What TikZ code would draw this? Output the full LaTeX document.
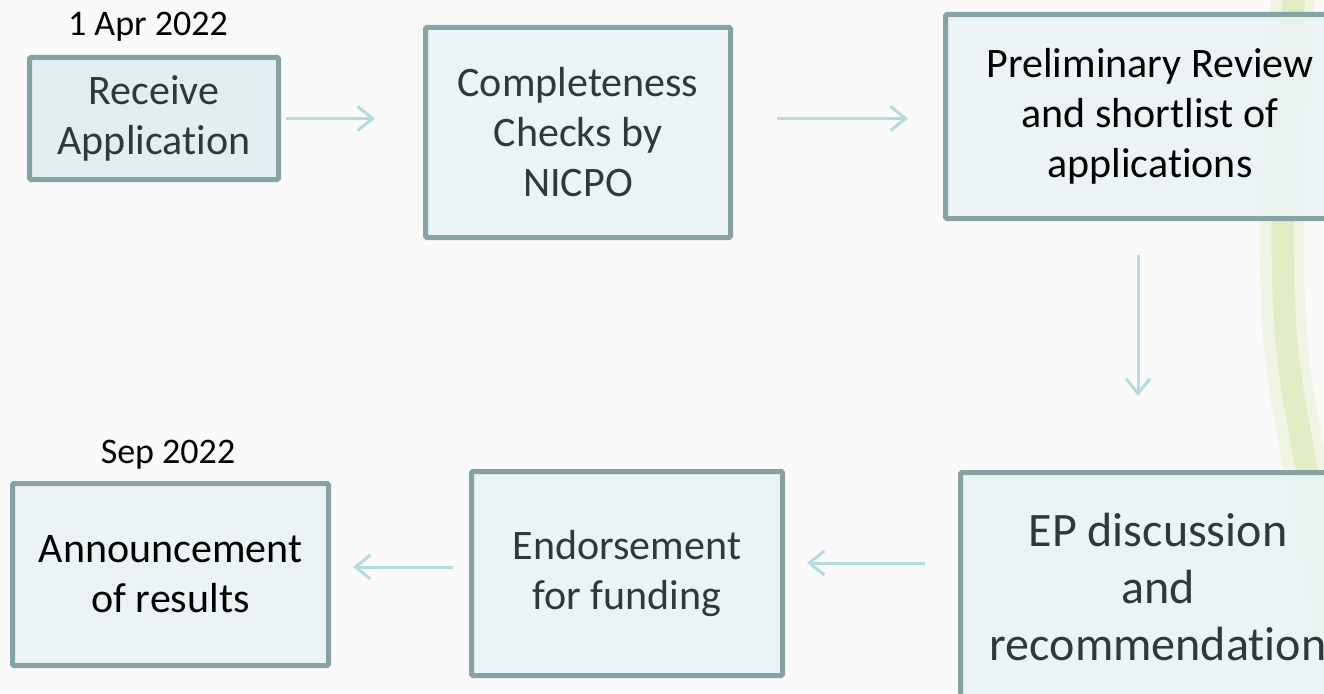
\documentclass[tikz,border=0pt]{standalone}
\usepackage{fontspec}
\setmainfont{Carlito}[Ligatures={NoCommon}]
\usetikzlibrary{arrows.meta,calc}
\definecolor{bg}{HTML}{FAFAFA}
\definecolor{bord}{HTML}{87A2A5}
\definecolor{fillA}{HTML}{E0EEEF}
\definecolor{fillB}{HTML}{EAF3F4}
\definecolor{txtc}{HTML}{2D3A3A}
\definecolor{arrc}{HTML}{B3DCE1}
\definecolor{bandA}{HTML}{E6EEC6}
\definecolor{bandB}{HTML}{D8E8B0}
\tikzset{
  box/.style={draw=bord, line width=5pt, fill=fillB, fill opacity=0.9, text opacity=1,
    rounded corners=1.5pt, inner sep=0pt, align=center, text=txtc,
    font=\fontsize{42}{50}\selectfont},
  datelbl/.style={inner sep=0pt, text=black, font=\fontsize{36}{43}\selectfont},
  arr/.style={draw=arrc, line width=3pt, -{Straight Barb[length=15pt,width=24pt]}}
}
\begin{document}
\begin{tikzpicture}[x=1pt,y=-1pt]
\useasboundingbox (0,0) rectangle (1324,693);
\clip (0,0) rectangle (1324,693);
\fill[bg] (0,0) rectangle (1324,693);
% decorative band
\draw[bandA, line width=44pt, opacity=0.45] (1295,-20) .. controls (1278,150) and (1278,300) .. (1290,380) .. controls (1302,460) and (1322,540) .. (1350,710);
\draw[bandB, line width=22pt, opacity=0.55] (1296,-20) .. controls (1279,150) and (1279,300) .. (1291,380) .. controls (1303,460) and (1323,540) .. (1351,710);
% boxes
\node[box, fill=fillA, minimum width=249pt, minimum height=122pt] (b1) at (154,118.5) {Receive\\Application};
\node[box, minimum width=305pt, minimum height=210pt] (b2) at (578,132.5) {Completeness\\Checks by\\NICPO};
\node[box, text=black, minimum width=409pt, minimum height=204pt] (b3) at (1150,116.5) {Preliminary Review\\and shortlist of\\applications};
\node[box, minimum width=395pt, minimum height=229pt, font=\fontsize{48}{57}\selectfont] (b4) at (1158,587) {EP discussion\\and\\recommendation};
\node[box, minimum width=311pt, minimum height=204pt] (b5) at (627,573.5) {Endorsement\\for funding};
\node[box, text=black, minimum width=316pt, minimum height=182pt] (b6) at (170.5,574.5) {Announcement\\of results};
% dates
\node[datelbl] (d1) at (148,27) {1 Apr 2022};
\node[datelbl] (d2) at (168,455) {Sep 2022};
% connectors
\draw[arr, shorten <=5pt, shorten >=48pt] (b1.east) -- (b1.east -| b2.west);
\draw[arr, shorten <=44pt, shorten >=35pt] (b2.east |- b1.east) -- (b3.west |- b1.east);
\coordinate (c3) at ([xshift=-12pt]b3.south);
\draw[arr, shorten <=34pt, shorten >=74pt] (c3) -- (c3 |- b4.north);
\coordinate (c4) at ([yshift=10.5pt]b5.east);
\draw[arr, shorten <=33pt, shorten >=22pt] (c4 -| b4.west) -- (c4);
\coordinate (c5) at ([yshift=7.5pt]b6.east);
\draw[arr, shorten <=16pt, shorten >=22pt] (c5 -| b5.west) -- (c5);
\end{tikzpicture}
\end{document}
